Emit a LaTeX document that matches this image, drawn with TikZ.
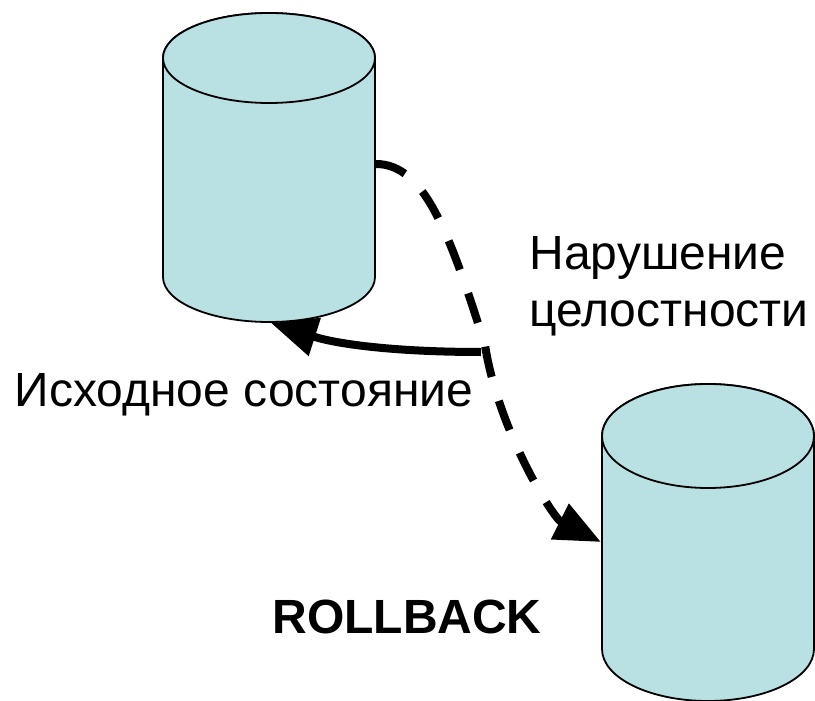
\documentclass[tikz,border=0pt]{standalone}
\usepackage{fontspec}
\setmainfont{Liberation Sans}
\usetikzlibrary{arrows.meta}
\definecolor{cylfill}{RGB}{185,224,227}
\tikzset{
  px/.style={x=1pt,y=-1pt},
  cyl/.style={draw=black,line width=1.8pt,fill=cylfill},
  lbl/.style={font=\fontsize{48}{52}\selectfont,inner sep=0pt,align=center,text=black},
  wide/.style={line width=8pt,-{Triangle[length=46pt,width=38pt]}}
}
\newcommand{\cylshape}[5]{% cx, top cy, bottom cy, ry, name
  \path[cyl] (#1-106,#2) -- (#1-106,#3) arc[x radius=106,y radius=#4,start angle=180,end angle=0] -- (#1+106,#2) arc[x radius=106,y radius=#4,start angle=0,end angle=-180] -- cycle;
  \path[cyl] (#1,#2) ellipse[x radius=106,y radius=#4];
  \coordinate (#5) at (#1,#2);
}
\begin{document}
\begin{tikzpicture}[px]
\useasboundingbox (0,0) rectangle (815,701);
\cylshape{269}{58}{277}{45}{dbA}
\cylshape{708}{436}{649}{52}{dbB}
\coordinate (dashstart) at (376,164);
\coordinate (dashmid) at (485,345);
\coordinate (dashend) at (601,542);
\coordinate (solidstart) at (481,352);
\coordinate (solidend) at (271,323);
\draw[wide,dash pattern=on 31pt off 25pt] (dashstart) .. controls (425,164) and (450,235) .. (dashmid) .. controls (498,430) and (553,518) .. (dashend);
\draw[wide] (solidstart) .. controls (400,352) and (340,345) .. (solidend);
\node[lbl] (n1) at (658,258) {Нарушение};
\node[lbl] (n2) at (669,318) {целостности};
\node[lbl] (n3) at (244,395) {Исходное состояние};
\node[lbl,font=\fontsize{48}{52}\selectfont\bfseries] (n4) at (407,617) {ROLLBACK};
\end{tikzpicture}
\end{document}
